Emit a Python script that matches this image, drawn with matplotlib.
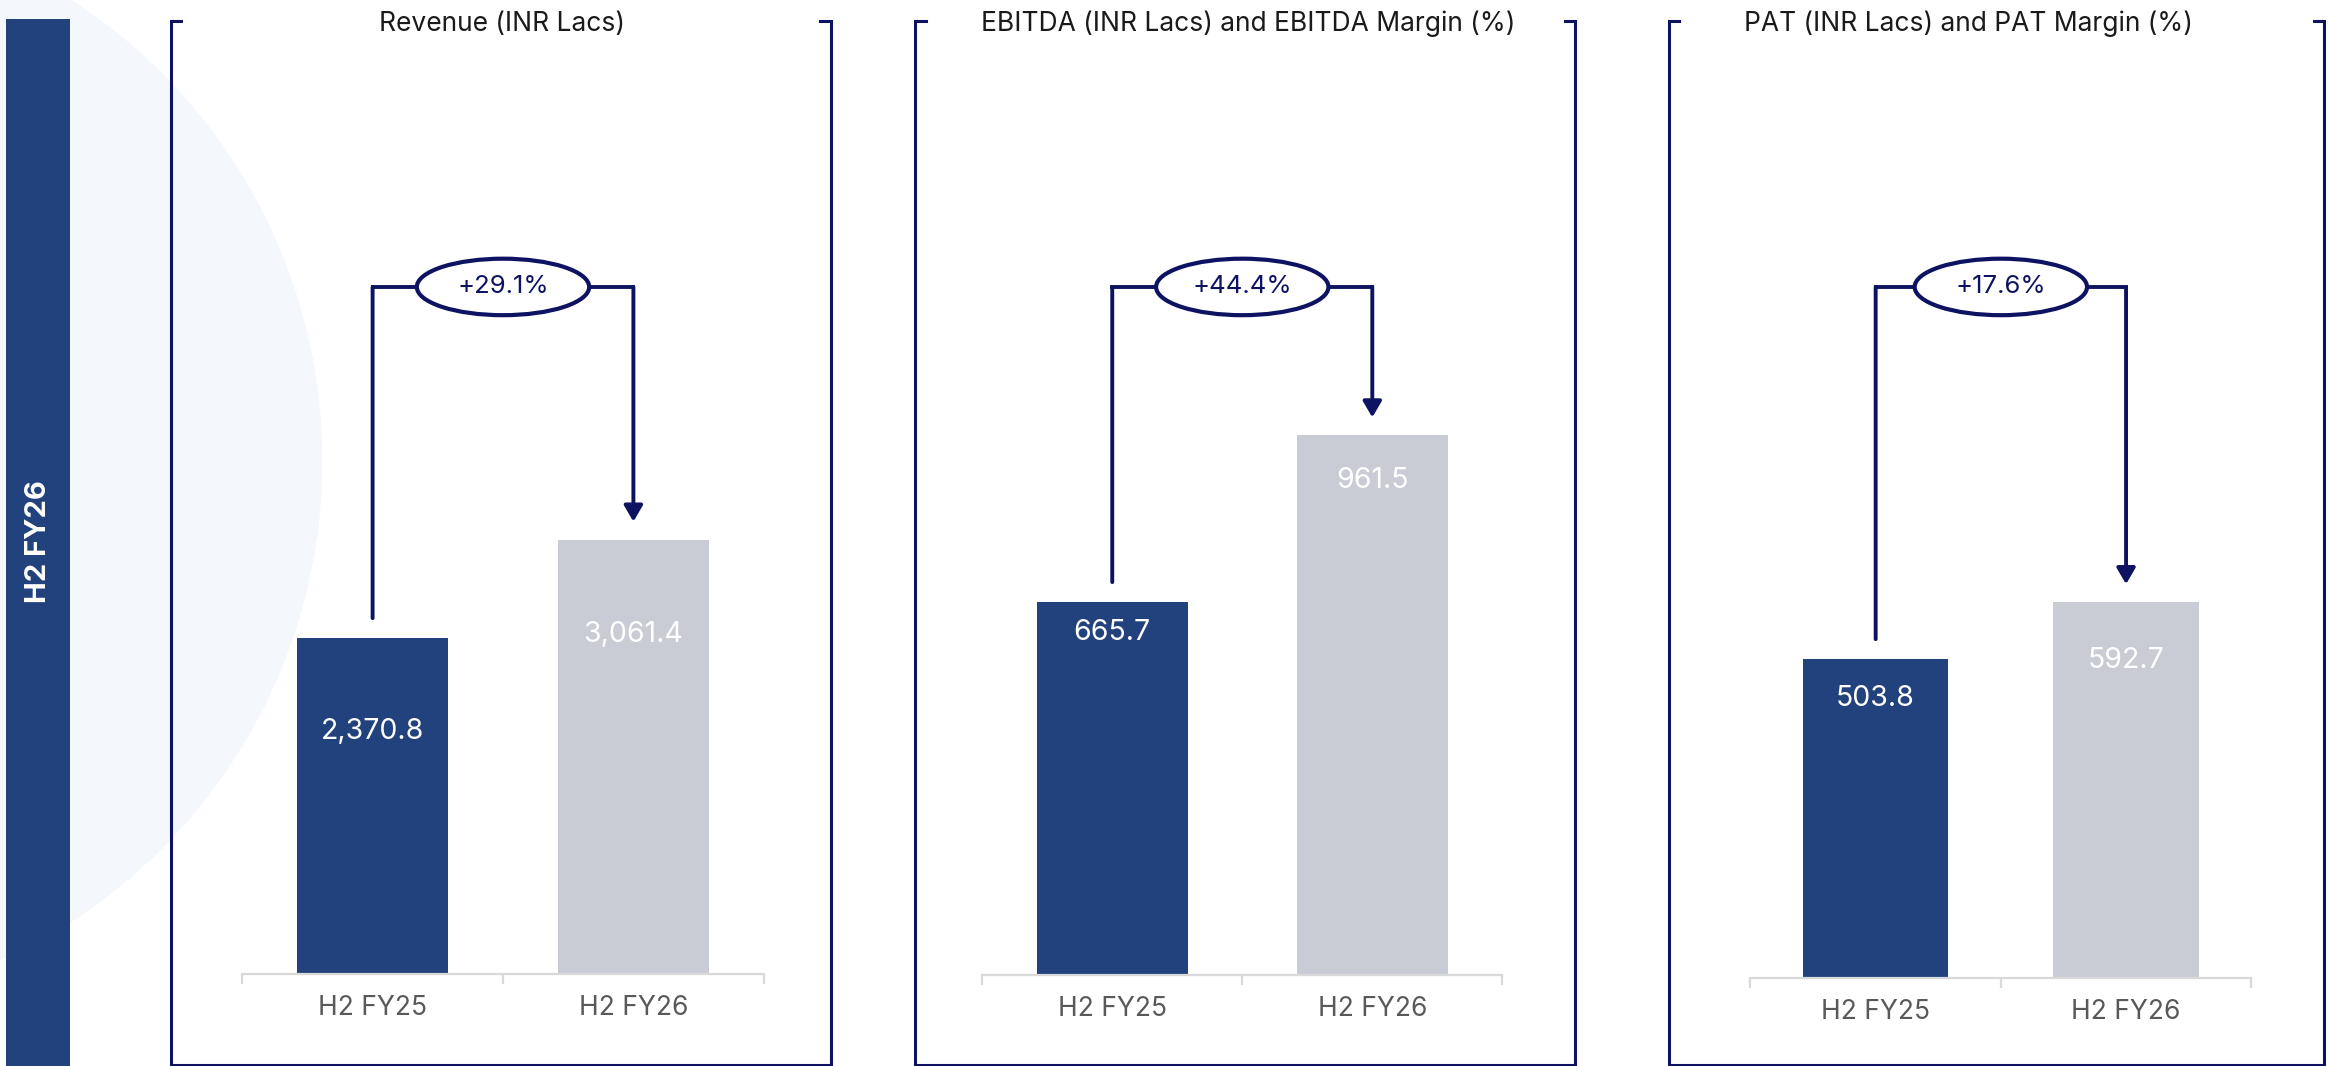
import matplotlib
matplotlib.use("Agg")
import matplotlib.pyplot as plt
from matplotlib.patches import Rectangle, Ellipse
from matplotlib.lines import Line2D

# data
periods = ["H2 FY25", "H2 FY26"]
titles = ["Revenue (INR Lacs)",
          "EBITDA (INR Lacs) and EBITDA Margin (%)",
          "PAT (INR Lacs) and PAT Margin (%)"]
revenue = [2370.8, 3061.4]
ebitda = [665.7, 961.5]
pat = [503.8, 592.7]
growth = ["+29.1%", "+44.4%", "+17.6%"]
value_labels = [["2,370.8", "3,061.4"], ["665.7", "961.5"], ["503.8", "592.7"]]
side_label = "H2 FY26"

# colours
navy = "#0d1361"
bar_dark = "#21427c"
bar_light = "#c9ccd5"
circle_col = "#f4f7fb"

plt.rcParams["font.family"] = ["Inter", "DejaVu Sans"]

W, H = 1568, 717  # layout reference grid
fig = plt.figure(figsize=(23.3, 10.66), dpi=100)
fig.patch.set_facecolor("white")


def fx(x):
    return x / W


def fy(y):
    return 1 - y / H


# faint background circle and left band
fig.add_artist(Ellipse((fx(-152), fy(310)), 2 * 369 / W, 2 * 369 / H,
                       transform=fig.transFigure, facecolor=circle_col,
                       edgecolor="none", zorder=-10))
fig.add_artist(Rectangle((fx(4), 0), fx(47) - fx(4), fy(13),
                         transform=fig.transFigure, facecolor=bar_dark,
                         edgecolor="none", zorder=-5))
fig.text(fx(26), fy(364), side_label, rotation=90, color="white",
         fontsize=21, fontweight="bold", ha="center", va="center")

# panel geometry (reference grid px)
frames = [(115, 559), (616, 1060), (1123, 1564)]
axes_x = [(163, 514), (661, 1011), (1178, 1515)]
baselines = [655, 656, 658]
title_x = [338, 840, 1325]
ytops = [6720, 1700, 1509]
label_drop = [[94, 95], [31, 45], [40, 58]]  # full-res px below bar top
series = [revenue, ebitda, pat]
top_y = 14
bottom_y = 716
tick = 7
h_line_y = 193

for i in range(3):
    l, r = frames[i]
    fig.add_artist(Line2D([fx(l + tick), fx(l), fx(l), fx(r), fx(r), fx(r - tick)],
                          [fy(top_y), fy(top_y), fy(bottom_y), fy(bottom_y),
                           fy(top_y), fy(top_y)],
                          transform=fig.transFigure, color=navy, lw=2.2,
                          solid_joinstyle="miter"))
    fig.text(fx(title_x[i]), fy(16), titles[i], ha="center", va="center",
             fontsize=19, color="#1a1a1a")

    ax0, ax1 = axes_x[i]
    base = baselines[i]
    ax = fig.add_axes([fx(ax0), fy(base), fx(ax1) - fx(ax0), fy(top_y) - fy(base)])
    ax.set_facecolor("none")
    vals = series[i]
    ax.bar([0, 1], vals, width=0.58, color=[bar_dark, bar_light], zorder=2)
    ax.set_xlim(-0.5, 1.5)
    ax.set_ylim(0, ytops[i])
    for s in ["top", "left", "right"]:
        ax.spines[s].set_visible(False)
    ax.spines["bottom"].set_color("#d9d9d9")
    ax.spines["bottom"].set_linewidth(1.6)
    ax.set_yticks([])
    ax.set_xticks([0, 1])
    ax.set_xticklabels(periods)
    ax.set_xticks([-0.5, 0.5, 1.5], minor=True)
    ax.tick_params(axis="x", which="major", length=0, pad=15,
                   labelsize=19, labelcolor="#595959")
    ax.tick_params(axis="x", which="minor", length=7.5, width=1.6,
                   color="#d9d9d9", direction="out")

    for j in range(2):
        ax.annotate(value_labels[i][j], xy=(j, vals[j]),
                    xytext=(0, -label_drop[i][j]), textcoords="offset pixels",
                    ha="center", va="center", color="white", fontsize=20.5)

    # growth connector
    frac = (base - h_line_y) / (base - top_y)
    yh = frac * ytops[i]
    ax.plot([0, 1], [yh, yh], color=navy, lw=2.8, zorder=3,
            solid_joinstyle="miter", solid_capstyle="projecting")
    ax.annotate("", xy=(0, vals[0]), xytext=(0, yh),
                arrowprops=dict(arrowstyle="-", color=navy, lw=2.8,
                                shrinkA=0, shrinkB=14), zorder=3)
    ax.annotate("", xy=(1, vals[1]), xytext=(1, yh),
                arrowprops=dict(arrowstyle="-|>,head_width=0.35,head_length=0.6",
                                color=navy, lw=2.8, mutation_scale=16,
                                shrinkA=0, shrinkB=13), zorder=3)
    ell_w = 116 / (ax1 - ax0)
    ell_h = 38 / (base - top_y)
    ax.add_patch(Ellipse((0.5, frac), ell_w, ell_h, transform=ax.transAxes,
                         facecolor="white", edgecolor=navy, lw=3.0,
                         zorder=4, clip_on=False))
    ax.text(0.5, frac, growth[i], transform=ax.transAxes, ha="center",
            va="center", fontsize=18.5, color=navy, zorder=5)

plt.savefig("out.png", dpi=100, facecolor="white")
plt.close()
